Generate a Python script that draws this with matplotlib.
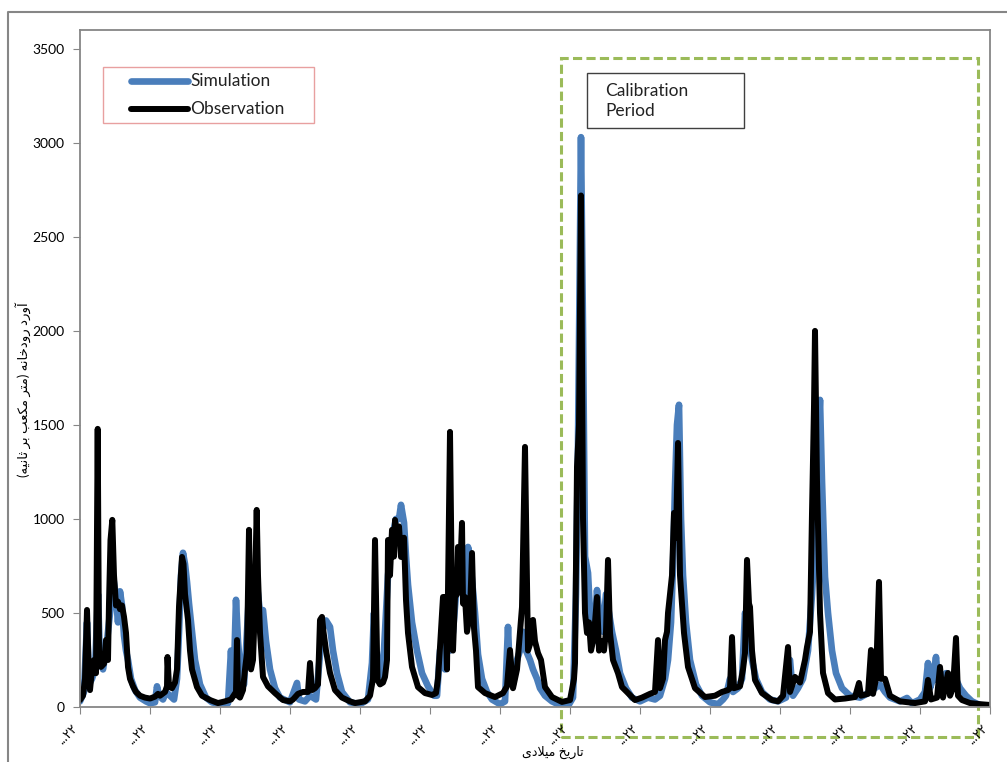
import matplotlib
matplotlib.use("Agg")
import matplotlib.pyplot as plt
from matplotlib.patches import Rectangle
from matplotlib.lines import Line2D

plt.rcParams['font.family'] = ['Lato', 'DejaVu Sans']

# (category index, discharge m3/s); one axis label every 70 categories
obs_points = [
    (0, 37), (3, 60), (5, 150), (7, 516), (9, 150), (10, 90), (12, 200), (14, 250), (16, 180), (17.7, 1479),
    (19, 300), (21, 213), (24, 230), (26, 356), (28, 250), (29, 553), (30.5, 888), (32.3, 995), (34, 700),
    (36, 540), (38, 560), (40, 520), (42, 540), (44, 480), (46, 394), (47, 300), (48, 213), (50, 150),
    (53, 110), (56, 80), (60, 60), (65, 50), (70, 45), (75, 55), (78, 70), (80, 60), (85, 80), (87, 110),
    (87.5, 266), (89, 110), (92, 100), (95, 130), (97, 200), (99, 532), (102, 798), (103.5, 760), (105, 600),
    (108, 463), (110, 300), (112, 200), (117, 106), (122, 60), (130, 37), (138, 21), (145, 30), (151, 40),
    (156, 80), (157, 356), (158, 60), (160, 50), (163, 90), (165, 200), (167, 287), (169, 942), (171, 200),
    (173, 250), (174, 400), (176.7, 1048), (178, 700), (180, 394), (183, 160), (188, 110), (195, 74),
    (203, 37), (210, 30), (213, 40), (218, 70), (223, 80), (228, 80), (230, 234), (232, 90), (235, 100),
    (238, 120), (240, 463), (242, 479), (243.5, 400), (246, 300), (250, 181), (255, 90), (262, 50),
    (270, 30), (275, 21), (285, 30), (290, 60), (293, 150), (295, 888), (297.5, 144), (300, 120),
    (303, 130), (305, 160), (307, 250), (308, 888), (310, 700), (312, 942), (314, 800), (315, 995),
    (317, 880), (319, 960), (321, 798), (322, 850), (324, 900), (326, 569), (328, 394), (332, 213),
    (338, 106), (345, 74), (352, 64), (356, 74), (358, 150), (360, 319), (363, 585), (365, 585), (367, 200),
    (370, 1463), (372, 550), (373, 300), (375, 585), (377, 600), (378, 851), (380, 700), (382, 979),
    (383, 550), (385, 585), (387, 400), (390, 500), (392, 819), (394, 420), (396, 300), (398, 106),
    (405, 74), (415, 53), (423, 74), (427, 110), (430, 303), (433, 100), (437, 200), (440, 400), (442, 532),
    (445, 1383), (448, 300), (451, 350), (453, 463), (455, 350), (458, 287), (461, 250), (465, 106),
    (472, 53), (482, 27), (490, 37), (494, 150), (495, 234), (497, 1277), (499, 1500), (501, 2720),
    (503, 1000), (505, 500), (507, 394), (509, 450), (511, 300), (513, 350), (515, 450), (517, 585),
    (519, 300), (521, 350), (524, 300), (526, 400), (528, 782), (530, 394), (533, 250), (538, 180),
    (542, 106), (548, 74), (555, 37), (562, 50), (570, 70), (575, 80), (578, 356), (580, 100), (583, 150),
    (585, 356), (587, 400), (588, 500), (590, 600), (592, 700), (594, 1032), (596, 900), (598, 1404),
    (600, 700), (602, 550), (604, 394), (608, 213), (615, 100), (625, 53), (635, 60), (642, 80), (648, 90),
    (650, 100), (652, 372), (654, 100), (660, 110), (663, 200), (665, 287), (667, 782), (669, 550),
    (670, 532), (672, 300), (675, 144), (682, 74), (692, 37), (698, 30), (703, 60), (708, 319), (710, 80),
    (715, 160), (720, 130), (725, 250), (727, 319), (730, 400), (732, 1032), (734, 1600), (735, 2000),
    (737, 1200), (740, 500), (743, 181), (748, 74), (755, 40), (765, 45), (775, 53), (779, 128), (781, 60),
    (788, 70), (791, 303), (793, 70), (796, 150), (799, 665), (801, 150), (805, 150), (810, 60), (820, 30),
    (835, 21), (845, 30), (848, 144), (851, 40), (857, 50), (860, 213), (863, 50), (868, 181), (870, 60),
    (873, 100), (876, 367), (878, 60), (882, 37), (890, 21), (900, 15), (912, 10),
]
sim_points = [
    (0, 30), (4, 80), (7, 450), (9, 120), (12, 150), (15, 200), (18, 600), (20, 250), (23, 200), (26, 300),
    (30, 500), (33, 700), (36, 580), (38, 450), (40, 615), (42, 540), (44, 380), (46, 300), (48, 250),
    (51, 150), (55, 90), (60, 50), (66, 30), (70, 20), (75, 25), (77, 110), (79, 60), (83, 40), (86, 80),
    (90, 60), (94, 40), (97, 150), (99, 400), (101, 700), (103, 820), (105, 760), (107, 665), (109, 550),
    (112, 400), (115, 250), (120, 120), (126, 50), (132, 25), (140, 15), (148, 20), (151, 300), (153, 80),
    (154, 200), (156, 570), (158, 350), (161, 150), (164, 120), (167, 400), (170, 700), (173, 450),
    (176, 700), (178, 600), (180, 500), (183, 515), (186, 350), (190, 200), (195, 100), (200, 50),
    (210, 25), (217, 128), (219, 40), (225, 30), (230, 60), (236, 40), (242, 400), (246, 460), (250, 426),
    (253, 300), (257, 180), (262, 80), (270, 25), (280, 15), (288, 40), (292, 234), (294, 500), (296, 200),
    (300, 150), (304, 300), (308, 700), (312, 900), (316, 1000), (319, 1000), (321, 1075), (324, 980),
    (326, 800), (328, 650), (332, 450), (337, 300), (342, 180), (348, 110), (354, 60), (357, 60),
    (360, 300), (362, 340), (365, 200), (368, 500), (370, 300), (373, 400), (376, 600), (380, 700),
    (383, 750), (386, 600), (388, 851), (390, 800), (392, 675), (395, 500), (398, 280), (402, 150),
    (407, 80), (412, 40), (420, 15), (425, 30), (428, 426), (430, 150), (433, 120), (437, 250), (440, 300),
    (443, 400), (446, 300), (450, 250), (453, 200), (457, 150), (460, 100), (465, 60), (472, 30), (480, 10),
    (488, 5), (493, 50), (496, 600), (498, 1383), (500, 2500), (501, 3030), (503, 2000), (505, 800),
    (508, 713), (511, 400), (514, 350), (517, 622), (520, 450), (523, 400), (526, 600), (529, 500),
    (532, 400), (536, 300), (540, 180), (546, 100), (552, 50), (560, 30), (568, 50), (575, 40), (580, 60),
    (585, 150), (588, 250), (591, 450), (593, 750), (595, 1170), (597, 1500), (599, 1607), (601, 1000),
    (603, 700), (606, 450), (610, 250), (616, 120), (622, 60), (630, 25), (638, 15), (643, 40), (646, 60),
    (650, 150), (653, 80), (658, 100), (662, 150), (665, 500), (667, 450), (669, 350), (672, 250),
    (676, 150), (682, 80), (690, 40), (698, 30), (706, 50), (710, 250), (713, 60), (718, 100), (723, 150),
    (728, 300), (732, 600), (736, 1000), (738, 1400), (740, 1633), (742, 1200), (745, 692), (748, 500),
    (752, 300), (756, 180), (762, 100), (770, 60), (780, 50), (790, 80), (795, 100), (800, 120), (805, 80),
    (810, 50), (820, 30), (827, 48), (832, 20), (840, 40), (845, 80), (848, 234), (850, 100), (853, 150),
    (856, 266), (858, 140), (862, 150), (866, 180), (870, 130), (875, 160), (880, 100), (886, 60),
    (892, 30), (900, 10), (912, 5),
]

x_ticks = list(range(0, 911, 70))
x_tick_labels = ['...۲۲'] * len(x_ticks)
y_ticks = [0, 500, 1000, 1500, 2000, 2500, 3000, 3500]
series_names = ['Simulation', 'Observation']

# simple persian shaping: (isolated, final[, initial, medial])
FORMS = {
    'ا': ('\uFE8D', '\uFE8E'), 'آ': ('\uFE81', '\uFE82'),
    'د': ('\uFEA9', '\uFEAA'), 'ر': ('\uFEAD', '\uFEAE'), 'و': ('\uFEED', '\uFEEE'),
    'ت': ('\uFE95', '\uFE96', '\uFE97', '\uFE98'), 'ث': ('\uFE99', '\uFE9A', '\uFE9B', '\uFE9C'),
    'خ': ('\uFEA5', '\uFEA6', '\uFEA7', '\uFEA8'), 'ب': ('\uFE8F', '\uFE90', '\uFE91', '\uFE92'),
    'ع': ('\uFEC9', '\uFECA', '\uFECB', '\uFECC'), 'م': ('\uFEE1', '\uFEE2', '\uFEE3', '\uFEE4'),
    'ل': ('\uFEDD', '\uFEDE', '\uFEDF', '\uFEE0'), 'ن': ('\uFEE5', '\uFEE6', '\uFEE7', '\uFEE8'),
    'ه': ('\uFEE9', '\uFEEA', '\uFEEB', '\uFEEC'), 'ی': ('\uFBFC', '\uFBFD', '\uFBFE', '\uFBFF'),
    'ک': ('\uFB8E', '\uFB8F', '\uFB90', '\uFB91'),
}
LAM_ALEF = {'ا': ('\uFEFB', '\uFEFC'), 'آ': ('\uFEF5', '\uFEF6')}


def fa(text):
    out = []
    i = 0
    while i < len(text):
        c = text[i]
        prev = text[i - 1] if i > 0 else ''
        nxt = text[i + 1] if i + 1 < len(text) else ''
        join_prev = prev in FORMS and len(FORMS[prev]) == 4 and c in FORMS
        if c == 'ل' and nxt in LAM_ALEF:
            out.append(LAM_ALEF[nxt][1 if join_prev else 0])
            i += 2
            continue
        if c in FORMS:
            f = FORMS[c]
            join_next = len(f) == 4 and nxt in FORMS
            if join_prev and join_next:
                out.append(f[3])
            elif join_prev:
                out.append(f[1])
            elif join_next:
                out.append(f[2])
            else:
                out.append(f[0])
        else:
            out.append({'(': ')', ')': '('}.get(c, c))
        i += 1
    return ''.join(out[::-1])


obs_x, obs_y = zip(*obs_points)
sim_x, sim_y = zip(*sim_points)

fig = plt.figure(figsize=(10.07, 7.62), dpi=100)
ax = fig.add_axes([80 / 1007, 55 / 762, 910 / 1007, 677 / 762])

ax.plot(sim_x, sim_y, color='#4a7ebb', lw=4.8, solid_joinstyle='round', solid_capstyle='round')
ax.plot(obs_x, obs_y, color='black', lw=4.3, solid_joinstyle='round', solid_capstyle='round')

ax.set_xlim(0, 910)
ax.set_ylim(0, 3600)
ax.set_yticks(y_ticks)
ax.set_xticks(x_ticks)
ax.set_xticklabels(x_tick_labels, rotation=45, ha='right', va='top', fontsize=9)
ax.tick_params(axis='y', labelsize=10, length=5, color='#868686', pad=6)
ax.tick_params(axis='x', length=5, color='#868686', pad=6)
for s in ax.spines.values():
    s.set_color('#868686')
    s.set_linewidth(1.3)

ax.set_ylabel(fa('آورد رودخانه (متر مکعب بر ثانیه)'), fontsize=9.5)
ax.yaxis.set_label_coords(-0.054, 0.468)
ax.set_xlabel(fa('تاریخ میلادی'), fontsize=9)
ax.xaxis.set_label_coords(0.52, -0.058)

# legend box drawn like the excel one
ax.add_patch(Rectangle((0.0253, 0.8626), 0.2319, 0.0827, transform=ax.transAxes,
                       fill=True, fc='white', ec='#e8a0a0', lw=1.0, zorder=5))
for yy, col, lw, name in [(0.9247, '#4a7ebb', 4.8, series_names[0]),
                          (0.8833, 'black', 4.3, series_names[1])]:
    ax.add_artist(Line2D([0.056, 0.1187], [yy, yy], transform=ax.transAxes, color=col,
                         lw=lw, solid_capstyle='round', zorder=6))
    ax.text(0.1209, yy, name, transform=ax.transAxes, fontsize=12.5, va='center',
            ha='left', zorder=6, color='#222222')

# calibration period box
ax.add_patch(Rectangle((0.5286, -0.0443), 0.4582, 1.0029, transform=ax.transAxes,
                       fill=False, ec='#9bbb59', lw=2.2, ls=(0, (3, 1.4)), clip_on=False))
ax.add_patch(Rectangle((0.557, 0.855), 0.1727, 0.0815, transform=ax.transAxes,
                       fill=True, fc='white', ec='#404040', lw=1.0, zorder=5))
ax.text(0.577, 0.8955, 'Calibration\nPeriod', transform=ax.transAxes, fontsize=12.5,
        va='center', ha='left', linespacing=1.3, zorder=6, color='#222222')

# outer chart border
fig.add_artist(Line2D([8 / 1007, 8 / 1007, 1], [0, 1 - 12 / 762, 1 - 12 / 762],
                      color='#868686', lw=1.5, transform=fig.transFigure))

fig.savefig('out.png', dpi=100)
